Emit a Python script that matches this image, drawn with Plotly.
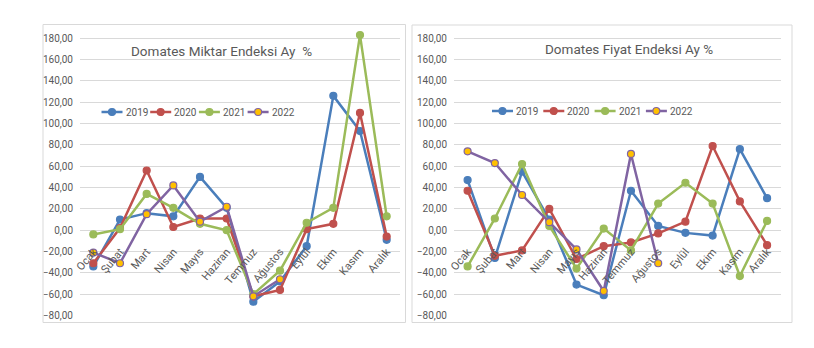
import plotly.graph_objects as go

W, H = 814, 348

months = ["Ocak", "Şubat", "Mart", "Nisan", "Mayıs", "Haziran",
          "Temmuz", "Ağustos", "Eylül", "Ekim", "Kasım", "Aralık"]
years = ["2019", "2020", "2021", "2022"]

miktar_2019 = [-34, 10, 16, 13, 50, 21, -67, -48, -15, 126, 93, -9]
miktar_2020 = [-31, 2, 56, 3, 11, 11, -62, -56, 1, 6, 110, -6]
miktar_2021 = [-4, 1, 34, 21, 6, 0, -60, -38, 7, 21, 183, 13]
miktar_2022 = [-21, -31, 15, 42, 8, 22, -62, -46]

fiyat_2019 = [47, -26, 55, 10, -51, -61, 37, 4, -2.5, -5, 76, 30]
fiyat_2020 = [37, -24, -19, 20, -27, -15, -11.5, -3, 8, 79, 27, -14]
fiyat_2021 = [-34, 11, 62, 4, -36, 1.5, -19, 25, 44.5, 25, -43, 8.7]
fiyat_2022 = [74, 63, 33, 7.5, -18, -57, 71.5, -31]

y_ticks = [-80, -60, -40, -20, 0, 20, 40, 60, 80, 100, 120, 140, 160, 180]

title_left = "Domates Miktar Endeksi Ay  %"
title_right = "Domates Fiyat Endeksi Ay %"

line_colors = ["#4A7EBB", "#C0504D", "#9BBB59", "#8064A2"]
marker_fill = ["#4A7EBB", "#C0504D", "#9BBB59", "#FFC000"]

TFONT = "Roboto, sans-serif"
GRAY = "#595959"


def px(x):
    return x / W


def py(y):
    return (H - y) / H


fig = go.Figure()

left = [miktar_2019, miktar_2020, miktar_2021, miktar_2022]
right = [fiyat_2019, fiyat_2020, fiyat_2021, fiyat_2022]

for ax, data in (("", left), ("2", right)):
    for i, (yr, vals) in enumerate(zip(years, data)):
        fig.add_trace(go.Scatter(
            x=months[:len(vals)], y=vals, name=yr, mode="lines+markers",
            line=dict(color=line_colors[i], width=2.5),
            marker=dict(size=7, color=marker_fill[i],
                        line=dict(color=line_colors[i], width=1.2)),
            cliponaxis=False, showlegend=False,
            xaxis="x" + ax, yaxis="y" + ax))

# y geometry: gridline 180 at y=38.3 px, -80 at 315.5 px
y_top, y_bot = 38.3, 315.5
ppu = (y_bot - y_top) / 260.0
ymax = 186
ydom = [py(y_bot), py(y_top - (ymax - 180) * ppu)]
zero_pix = y_top + 180 * ppu
xpos = py(zero_pix)

common_x = dict(type="category", categoryorder="array", categoryarray=months,
                range=[-0.5, 11.5], tickangle=-50, showgrid=False, zeroline=False,
                showline=False, ticks="", anchor="free", position=xpos,
                ticklabelstandoff=12,
                tickfont=dict(family=TFONT, size=11, color=GRAY))
common_y = dict(range=[-80, ymax], tickvals=y_ticks, tickformat=".2f", showgrid=True,
                gridcolor="#D9D9D9", gridwidth=1, zeroline=False, showline=False,
                ticks="", ticklabelstandoff=6, domain=ydom,
                tickfont=dict(family=TFONT, size=10, color=GRAY))

shapes = [
    dict(type="rect", xref="paper", yref="paper", x0=px(43), x1=px(405.5),
         y0=py(322.5), y1=py(24.5), line=dict(color="#D9D9D9", width=1)),
    dict(type="rect", xref="paper", yref="paper", x0=px(412), x1=px(792),
         y0=py(322.5), y1=py(25), line=dict(color="#D9D9D9", width=1)),
]
annotations = [
    dict(text=title_left, x=px(222), y=py(51), xref="paper", yref="paper",
         xanchor="center", yanchor="middle", showarrow=False,
         font=dict(family=TFONT, size=13.5, color=GRAY)),
    dict(text=title_right, x=px(629), y=py(49), xref="paper", yref="paper",
         xanchor="center", yanchor="middle", showarrow=False,
         font=dict(family=TFONT, size=13.5, color=GRAY)),
]

# manual legends (Excel style: short line sample with marker)
for start, step, ly in ((101.5, 48.7, 112), (492, 51.3, 111)):
    for i, yr in enumerate(years):
        x0 = start + i * step
        shapes.append(dict(type="line", xref="paper", yref="paper",
                           x0=px(x0), x1=px(x0 + 21), y0=py(ly), y1=py(ly),
                           line=dict(color=line_colors[i], width=2.5)))
        cx = x0 + 10.5
        shapes.append(dict(type="circle", xref="paper", yref="paper",
                           x0=px(cx - 3.5), x1=px(cx + 3.5),
                           y0=py(ly + 3.5), y1=py(ly - 3.5),
                           fillcolor=marker_fill[i],
                           line=dict(color=line_colors[i], width=1.2)))
        annotations.append(dict(text=yr, x=px(x0 + 22), y=py(ly), xref="paper",
                                yref="paper", xanchor="left", yanchor="middle",
                                showarrow=False,
                                font=dict(family=TFONT, size=10, color=GRAY)))

fig.update_layout(
    width=W, height=H,
    margin=dict(l=0, r=0, t=0, b=0, autoexpand=False),
    paper_bgcolor="white", plot_bgcolor="white",
    separators=", ",
    showlegend=False,
    xaxis=dict(domain=[px(80), px(400)], **common_x),
    xaxis2=dict(domain=[px(454), px(780.7)], **common_x),
    yaxis=dict(anchor="x", **common_y),
    yaxis2=dict(anchor="x2", **common_y),
    annotations=annotations,
    shapes=shapes,
)

fig.write_html("out.html")
